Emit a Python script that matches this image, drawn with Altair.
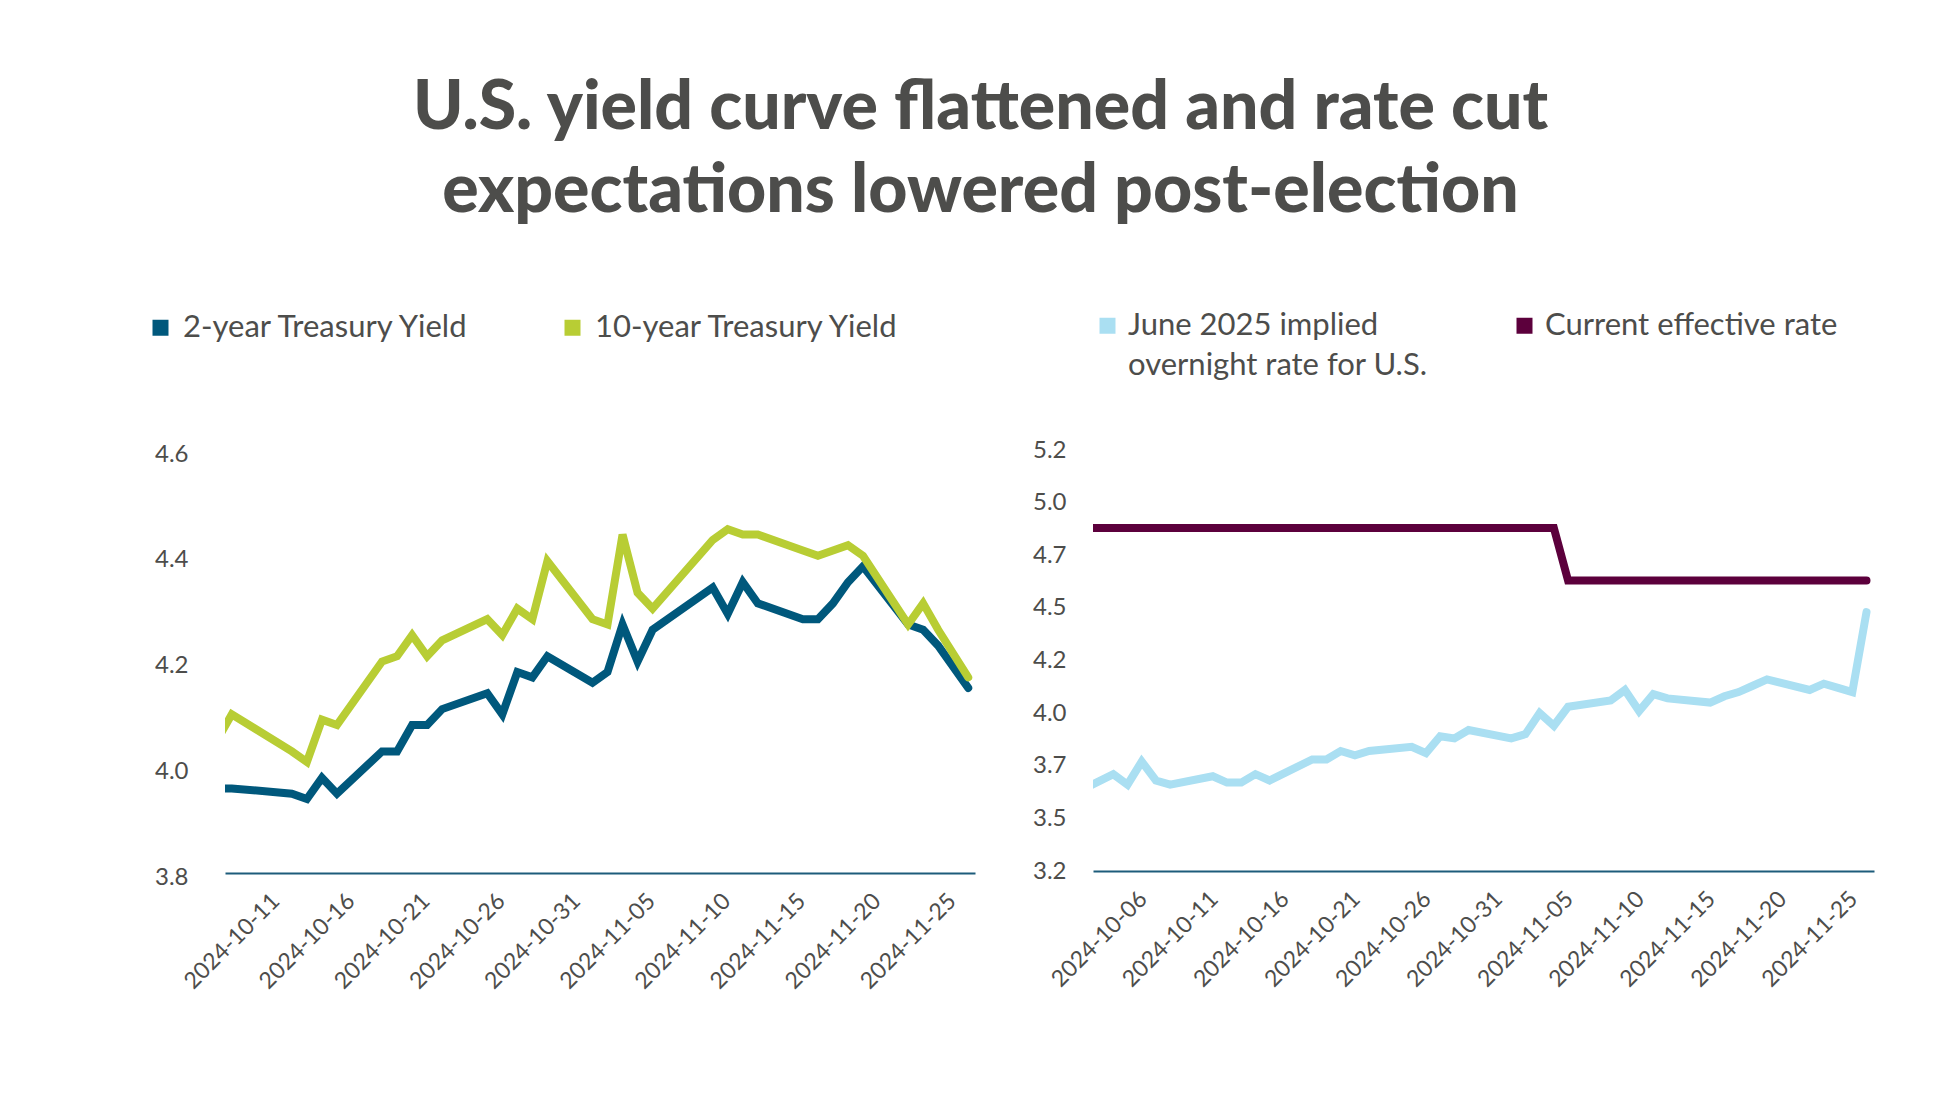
import altair as alt
import pandas as pd

# ---------------- Left panel: Treasury yields ----------------
yield_dates = ["2024-10-10", "2024-10-11", "2024-10-15", "2024-10-16", "2024-10-17", "2024-10-18",
               "2024-10-21", "2024-10-22", "2024-10-23", "2024-10-24", "2024-10-25",
               "2024-10-28", "2024-10-29", "2024-10-30", "2024-10-31", "2024-11-01",
               "2024-11-04", "2024-11-05", "2024-11-06", "2024-11-07", "2024-11-08",
               "2024-11-12", "2024-11-13", "2024-11-14", "2024-11-15",
               "2024-11-18", "2024-11-19", "2024-11-20", "2024-11-21", "2024-11-22",
               "2024-11-25", "2024-11-26", "2024-11-27", "2024-11-29"]
two_year = [3.96, 3.96, 3.95, 3.94, 3.98, 3.95,
            4.03, 4.03, 4.08, 4.08, 4.11,
            4.14, 4.10, 4.18, 4.17, 4.21,
            4.16, 4.18, 4.27, 4.20, 4.26,
            4.34, 4.29, 4.35, 4.31,
            4.28, 4.28, 4.31, 4.35, 4.38,
            4.27, 4.26, 4.23, 4.15]
ten_year = [4.05, 4.10, 4.03, 4.01, 4.09, 4.08,
            4.20, 4.21, 4.25, 4.21, 4.24,
            4.28, 4.25, 4.30, 4.28, 4.39,
            4.28, 4.27, 4.44, 4.33, 4.30,
            4.43, 4.45, 4.44, 4.44,
            4.41, 4.40, 4.41, 4.42, 4.40,
            4.27, 4.31, 4.26, 4.17]
left_series = ["2-year Treasury Yield", "10-year Treasury Yield"]
left_colors = ["#00587c", "#b8cd34"]
left_ticks_y = [3.8, 4.0, 4.2, 4.4, 4.6]
left_tick_days = [(10, 11), (10, 16), (10, 21), (10, 26), (10, 31),
                  (11, 5), (11, 10), (11, 15), (11, 20), (11, 25)]

# ---------------- Right panel: rate expectations ----------------
rate_dates = ["2024-10-04",
              "2024-10-07", "2024-10-08", "2024-10-09", "2024-10-10", "2024-10-11",
              "2024-10-14", "2024-10-15", "2024-10-16", "2024-10-17", "2024-10-18",
              "2024-10-21", "2024-10-22", "2024-10-23", "2024-10-24", "2024-10-25",
              "2024-10-28", "2024-10-29", "2024-10-30", "2024-10-31", "2024-11-01",
              "2024-11-04", "2024-11-05", "2024-11-06", "2024-11-07", "2024-11-08",
              "2024-11-11", "2024-11-12", "2024-11-13", "2024-11-14", "2024-11-15",
              "2024-11-18", "2024-11-19", "2024-11-20", "2024-11-21", "2024-11-22",
              "2024-11-25", "2024-11-26", "2024-11-27", "2024-11-28", "2024-11-29"]
june_implied = [3.56,
                3.66, 3.61, 3.72, 3.63, 3.61,
                3.65, 3.62, 3.62, 3.66, 3.63,
                3.73, 3.73, 3.77, 3.75, 3.77,
                3.79, 3.76, 3.84, 3.83, 3.87,
                3.83, 3.85, 3.95, 3.89, 3.98,
                4.01, 4.06, 3.96, 4.04, 4.02,
                4.00, 4.03, 4.05, 4.08, 4.11,
                4.06, 4.09, 4.07, 4.05, 4.43]
effective_rate = [4.83,
                  4.83, 4.83, 4.83, 4.83, 4.83,
                  4.83, 4.83, 4.83, 4.83, 4.83,
                  4.83, 4.83, 4.83, 4.83, 4.83,
                  4.83, 4.83, 4.83, 4.83, 4.83,
                  4.83, 4.83, 4.83, 4.83, 4.58,
                  4.58, 4.58, 4.58, 4.58, 4.58,
                  4.58, 4.58, 4.58, 4.58, 4.58,
                  4.58, 4.58, 4.58, 4.58, 4.58]
right_series = ["June 2025 implied overnight rate for U.S.", "Current effective rate"]
right_colors = ["#aadff2", "#5c003c"]
right_ticks_y = [3.2, 3.45, 3.7, 3.95, 4.2, 4.45, 4.7, 4.95, 5.2]
right_tick_days = [(10, 6)] + left_tick_days

TITLE = ["U.S. yield curve flattened and rate cut", "expectations lowered post-election"]

# ---------------- build tables ----------------
left_df = pd.DataFrame({
    "date": [d + "T00:00:00" for d in yield_dates] * 2,
    "value": two_year + ten_year,
    "series": [left_series[0]] * len(yield_dates) + [left_series[1]] * len(yield_dates),
})
right_df = pd.DataFrame({
    "date": [d + "T00:00:00" for d in rate_dates] * 2,
    "value": june_implied + effective_rate,
    "series": [right_series[0]] * len(rate_dates) + [right_series[1]] * len(rate_dates),
})

FONT = "Lato"
TEXT = "#4d4d4b"
AXIS_LINE = "#1d5c7b"


def x_axis(days):
    return alt.Axis(
        values=[alt.DateTime(year=2024, month=m, date=d) for m, d in days],
        format="%Y-%m-%d", labelAngle=315, labelAlign="center", labelBaseline="middle",
        labelPadding=68, ticks=False, tickSize=0, grid=False, domain=True,
        domainColor=AXIS_LINE, domainWidth=2, labelFont=FONT, labelFontSize=23,
        labelColor=TEXT, labelOverlap=False, labelFlush=False,
    )


def y_axis(vals, pad, extent, shift):
    return alt.Axis(
        values=vals, format=".1f", ticks=False, tickSize=0, domain=False, grid=False,
        labelPadding=pad, labelFont=FONT, labelFontSize=24, labelColor=TEXT,
        minExtent=extent, maxExtent=extent, labelOffset=shift,
    )


def legend(x, y, colpad, offset, expr):
    return alt.Legend(
        orient="none", legendX=x, legendY=y, direction="horizontal", title=None,
        symbolType="square", symbolSize=64, symbolStrokeWidth=8, symbolOpacity=1,
        labelFont=FONT, labelFontSize=31, labelColor=TEXT, labelLimit=800,
        labelOffset=offset, columnPadding=colpad, padding=0, labelExpr=expr,
    )


left_x = alt.X("date:T", title=None,
               scale=alt.Scale(domain=[alt.DateTime(year=2024, month=10, date=10, hours=13, minutes=12),
                                       alt.DateTime(year=2024, month=11, date=29, hours=10, minutes=50)]),
               axis=x_axis(left_tick_days))
left_y = alt.Y("value:Q", title=None, scale=alt.Scale(domain=[3.8, 4.6], nice=False, zero=False),
               axis=y_axis(left_ticks_y, 37, 72, 4))
left_color = alt.Color("series:N", scale=alt.Scale(domain=left_series, range=left_colors),
                       legend=legend(-80, -138, 81, 7, "datum.label"))

left_base = alt.Chart(left_df).mark_line(strokeWidth=8, strokeCap="round", clip=True).encode(
    x=left_x, y=left_y, color=left_color)
left = alt.layer(
    left_base.transform_filter(alt.datum.series == left_series[0]),
    left_base.transform_filter(alt.datum.series == left_series[1]),
).properties(width=750, height=423)

right_x = alt.X("date:T", title=None,
                scale=alt.Scale(domain=[alt.DateTime(year=2024, month=10, date=5, hours=13, minutes=42),
                                        alt.DateTime(year=2024, month=11, date=29, hours=12, minutes=40)]),
                axis=x_axis(right_tick_days))
right_y = alt.Y("value:Q", title=None, scale=alt.Scale(domain=[3.2, 5.2], nice=False, zero=False),
                axis=y_axis(right_ticks_y, 27, 61, 0))
right_expr = ("datum.label == 'June 2025 implied overnight rate for U.S.' ? "
              "['June 2025 implied', 'overnight rate for U.S.'] : [datum.label, ' ']")
right_color = alt.Color("series:N", scale=alt.Scale(domain=right_series, range=right_colors),
                        legend=legend(-1, -140, 76, 5, right_expr))

right = alt.Chart(right_df).mark_line(strokeWidth=8, strokeCap="round", clip=True).encode(
    x=right_x, y=right_y, color=right_color
).properties(width=781, height=421)

base = alt.hconcat(left, right, spacing=57).resolve_scale(color="independent").properties(
    title=alt.TitleParams(text=TITLE, font=FONT, fontSize=68, fontWeight=900, color=TEXT,
                          lineHeight=83, anchor="middle", frame="bounds", dx=-29, offset=84),
    padding={"left": 137, "top": 67, "right": 5, "bottom": 5},
)

try:
    chart = base.configure(view=alt.ViewConfig(stroke=None),
                           style={"guide-label": {"lineHeight": 40}})
    chart.to_dict()
except Exception:
    chart = base.configure_view(stroke=None)

chart.save("out.html", embed_options={"renderer": "svg", "actions": False})
